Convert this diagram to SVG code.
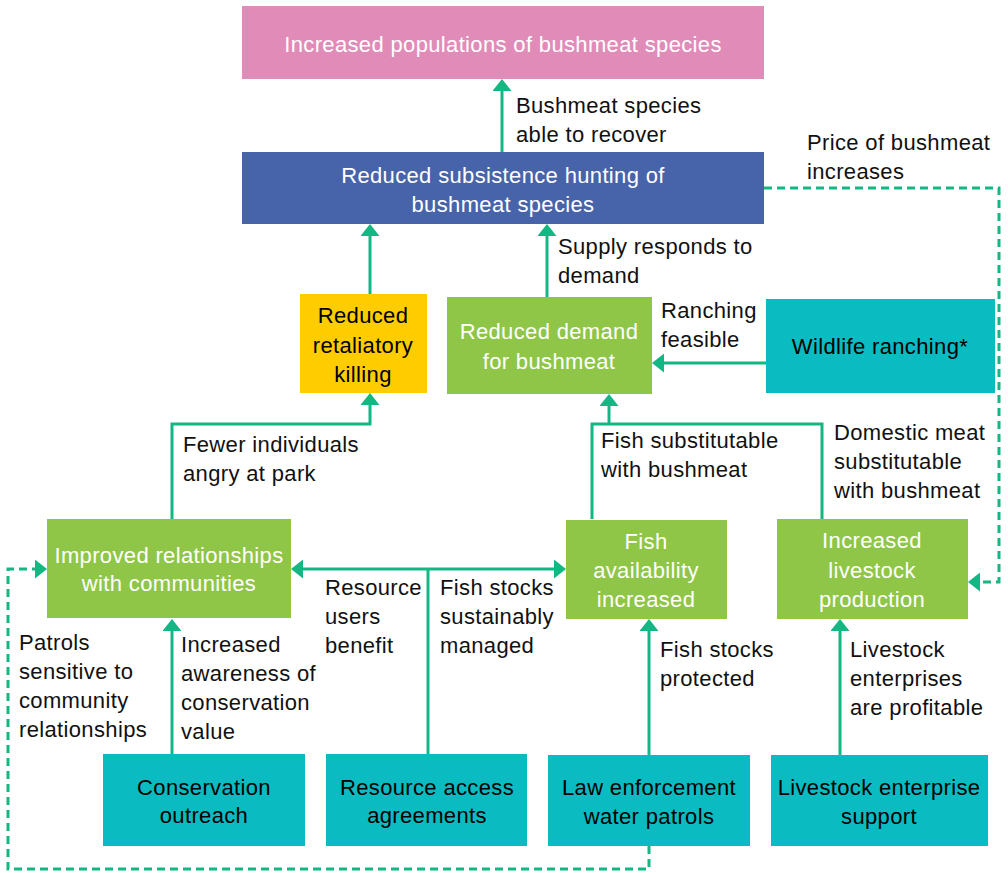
<svg xmlns="http://www.w3.org/2000/svg" width="1008" height="873" viewBox="0 0 1008 873">
<defs>
<style>
text{font-family:"Liberation Sans",Arial,sans-serif;font-size:22px;letter-spacing:0.35px;}
.w{fill:#ffffff;text-anchor:middle;}
.b{fill:#000000;text-anchor:middle;}
.l{fill:#111111;}
.pink{fill:#E18BB9;}
.blue{fill:#4764AA;}
.green{fill:#8FC647;}
.yellow{fill:#FFCC00;}
.teal{fill:#0BBBC2;}
.c{fill:none;stroke:#13B784;stroke-width:3;}
.d{fill:none;stroke:#13B784;stroke-width:3;stroke-dasharray:8 5;}
</style>
<marker id="arr" viewBox="0 0 12 19" refX="4" refY="9.5" markerWidth="12" markerHeight="19" markerUnits="userSpaceOnUse" orient="auto-start-reverse">
<path d="M0,0 L12,9.5 L0,19 z" fill="#13B784"/>
</marker>
</defs>
<g id="connectors">
<path class="c" d="M502,152 V87" marker-end="url(#arr)"/>
<path class="c" d="M370,294 V232" marker-end="url(#arr)"/>
<path class="c" d="M547,297 V232" marker-end="url(#arr)"/>
<path class="c" d="M172,519 V424 H370 V401" marker-end="url(#arr)"/>
<path class="c" d="M592,519 V424 H822 V519"/>
<path class="c" d="M609,424 V402" marker-end="url(#arr)"/>
<path class="c" d="M766,363 H660" marker-end="url(#arr)"/>
<path class="d" d="M764,188 H999 V582 H976" marker-end="url(#arr)"/>
<path class="d" d="M649,846 V869 H8 V569 H39" marker-end="url(#arr)"/>
<path class="c" d="M172,754 V627" marker-end="url(#arr)"/>
<path class="c" d="M428,754 V569"/>
<path class="c" d="M299,569 H558" marker-start="url(#arr)" marker-end="url(#arr)"/>
<path class="c" d="M649,756 V627" marker-end="url(#arr)"/>
<path class="c" d="M840,756 V627" marker-end="url(#arr)"/>
</g>
<g id="labels">
<text class="l" x="516" y="113">Bushmeat species</text>
<text class="l" x="516" y="142">able to recover</text>
<text class="l" x="807" y="150">Price of bushmeat</text>
<text class="l" x="807" y="179">increases</text>
<text class="l" x="558" y="254">Supply responds to</text>
<text class="l" x="558" y="283">demand</text>
<text class="l" x="661" y="318">Ranching</text>
<text class="l" x="661" y="347">feasible</text>
<text class="l" x="183" y="452">Fewer individuals</text>
<text class="l" x="183" y="481">angry at park</text>
<text class="l" x="601" y="448">Fish substitutable</text>
<text class="l" x="601" y="477">with bushmeat</text>
<text class="l" x="834" y="440">Domestic meat</text>
<text class="l" x="834" y="469">substitutable</text>
<text class="l" x="834" y="498">with bushmeat</text>
<text class="l" x="325" y="595">Resource</text>
<text class="l" x="325" y="624">users</text>
<text class="l" x="325" y="653">benefit</text>
<text class="l" x="440" y="595">Fish stocks</text>
<text class="l" x="440" y="624">sustainably</text>
<text class="l" x="440" y="653">managed</text>
<text class="l" x="19" y="650">Patrols</text>
<text class="l" x="19" y="679">sensitive to</text>
<text class="l" x="19" y="708">community</text>
<text class="l" x="19" y="737">relationships</text>
<text class="l" x="181" y="652">Increased</text>
<text class="l" x="181" y="681">awareness of</text>
<text class="l" x="181" y="710">conservation</text>
<text class="l" x="181" y="739">value</text>
<text class="l" x="660" y="657">Fish stocks</text>
<text class="l" x="660" y="686">protected</text>
<text class="l" x="850" y="657">Livestock</text>
<text class="l" x="850" y="686">enterprises</text>
<text class="l" x="850" y="715">are profitable</text>
</g>
<g id="node-populations">
<rect class="pink" x="242" y="6" width="522" height="73"/>
<text class="w" x="503" y="52">Increased populations of bushmeat species</text>
</g>
<g id="node-subsistence">
<rect class="blue" x="242" y="152" width="522" height="72"/>
<text class="w" x="503" y="183">Reduced subsistence hunting of</text>
<text class="w" x="503" y="212">bushmeat species</text>
</g>
<g id="node-retaliatory">
<rect class="yellow" x="300" y="294" width="127" height="99"/>
<text class="b" x="363" y="323">Reduced</text>
<text class="b" x="363" y="353">retaliatory</text>
<text class="b" x="363" y="382">killing</text>
</g>
<g id="node-demand">
<rect class="green" x="447" y="297" width="205" height="97"/>
<text class="w" x="549" y="339">Reduced demand</text>
<text class="w" x="549" y="369">for bushmeat</text>
</g>
<g id="node-ranching">
<rect class="teal" x="766" y="299" width="229" height="94"/>
<text class="b" x="880" y="354">Wildlife ranching*</text>
</g>
<g id="node-relationships">
<rect class="green" x="47" y="519" width="244" height="99"/>
<text class="w" x="169" y="563">Improved relationships</text>
<text class="w" x="169" y="591">with communities</text>
</g>
<g id="node-fish">
<rect class="green" x="566" y="520" width="161" height="99"/>
<text class="w" x="646" y="549">Fish</text>
<text class="w" x="646" y="578">availability</text>
<text class="w" x="646" y="607">increased</text>
</g>
<g id="node-livestock">
<rect class="green" x="777" y="519" width="191" height="100"/>
<text class="w" x="872" y="548">Increased</text>
<text class="w" x="872" y="578">livestock</text>
<text class="w" x="872" y="607">production</text>
</g>
<g id="node-outreach">
<rect class="teal" x="103" y="754" width="202" height="92"/>
<text class="b" x="204" y="795">Conservation</text>
<text class="b" x="204" y="823">outreach</text>
</g>
<g id="node-resource">
<rect class="teal" x="326" y="754" width="201" height="92"/>
<text class="b" x="427" y="795">Resource access</text>
<text class="b" x="427" y="823">agreements</text>
</g>
<g id="node-law">
<rect class="teal" x="548" y="755" width="202" height="91"/>
<text class="b" x="649" y="795">Law enforcement</text>
<text class="b" x="649" y="824">water patrols</text>
</g>
<g id="node-livestock-support">
<rect class="teal" x="771" y="755" width="217" height="91"/>
<text class="b" x="879" y="795">Livestock enterprise</text>
<text class="b" x="879" y="824">support</text>
</g>
</svg>
